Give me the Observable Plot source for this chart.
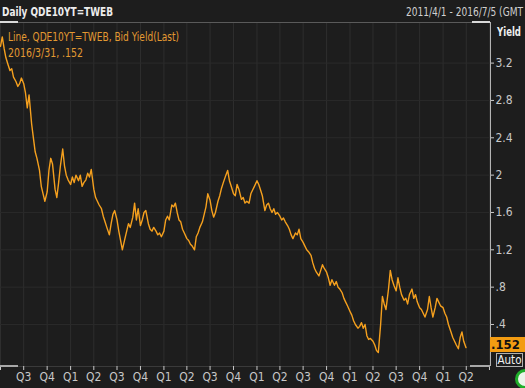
<!DOCTYPE html>
<html><head><meta charset="utf-8">
<script src="https://cdn.jsdelivr.net/npm/d3@7"></script>
<script src="https://cdn.jsdelivr.net/npm/@observablehq/plot@0.6"></script>
<style>
html,body{margin:0;padding:0;background:#1d1d1d;overflow:hidden}
#wrap{position:relative;width:525px;height:388px;overflow:hidden;font-family:"Liberation Sans Narrow","DejaVu Sans Condensed",sans-serif}
.ov{position:absolute;white-space:nowrap;line-height:14px;transform-origin:0 50%}
</style></head><body><div id="wrap"></div>
<script>
// ---- data ----
const dates = [
"2011-04-01","2011-04-08","2011-04-15","2011-04-22","2011-05-01","2011-05-08","2011-05-15","2011-05-22",
"2011-06-01","2011-06-08","2011-06-15","2011-06-22","2011-07-01","2011-07-08","2011-07-15","2011-07-22",
"2011-08-01","2011-08-08","2011-08-15","2011-08-22","2011-09-01","2011-09-08","2011-09-15","2011-09-22",
"2011-10-01","2011-10-08","2011-10-15","2011-10-22","2011-11-01","2011-11-08","2011-11-15","2011-11-22",
"2011-12-01","2011-12-08","2011-12-15","2011-12-22","2012-01-01","2012-01-08","2012-01-15","2012-01-22",
"2012-02-01","2012-02-08","2012-02-15","2012-02-22","2012-03-01","2012-03-08","2012-03-15","2012-03-22",
"2012-04-01","2012-04-08","2012-04-15","2012-04-22","2012-05-01","2012-05-08","2012-05-15","2012-05-22",
"2012-06-01","2012-06-08","2012-06-15","2012-06-22","2012-07-01","2012-07-08","2012-07-15","2012-07-22",
"2012-08-01","2012-08-08","2012-08-15","2012-08-22","2012-09-01","2012-09-08","2012-09-15","2012-09-22",
"2012-10-01","2012-10-08","2012-10-15","2012-10-22","2012-11-01","2012-11-08","2012-11-15","2012-11-22",
"2012-12-01","2012-12-08","2012-12-15","2012-12-22","2013-01-01","2013-01-08","2013-01-15","2013-01-22",
"2013-02-01","2013-02-08","2013-02-15","2013-02-22","2013-03-01","2013-03-08","2013-03-15","2013-03-22",
"2013-04-01","2013-04-08","2013-04-15","2013-04-22","2013-05-01","2013-05-08","2013-05-15","2013-05-22",
"2013-06-01","2013-06-08","2013-06-15","2013-06-22","2013-07-01","2013-07-08","2013-07-15","2013-07-22",
"2013-08-01","2013-08-08","2013-08-15","2013-08-22","2013-09-01","2013-09-08","2013-09-15","2013-09-22",
"2013-10-01","2013-10-08","2013-10-15","2013-10-22","2013-11-01","2013-11-08","2013-11-15","2013-11-22",
"2013-12-01","2013-12-08","2013-12-15","2013-12-22","2014-01-01","2014-01-08","2014-01-15","2014-01-22",
"2014-02-01","2014-02-08","2014-02-15","2014-02-22","2014-03-01","2014-03-08","2014-03-15","2014-03-22",
"2014-04-01","2014-04-08","2014-04-15","2014-04-22","2014-05-01","2014-05-08","2014-05-15","2014-05-22",
"2014-06-01","2014-06-08","2014-06-15","2014-06-22","2014-07-01","2014-07-08","2014-07-15","2014-07-22",
"2014-08-01","2014-08-08","2014-08-15","2014-08-22","2014-09-01","2014-09-08","2014-09-15","2014-09-22",
"2014-10-01","2014-10-08","2014-10-15","2014-10-22","2014-11-01","2014-11-08","2014-11-15","2014-11-22",
"2014-12-01","2014-12-08","2014-12-15","2014-12-22","2015-01-01","2015-01-08","2015-01-15","2015-01-22",
"2015-02-01","2015-02-08","2015-02-15","2015-02-22","2015-03-01","2015-03-08","2015-03-15","2015-03-22",
"2015-04-01","2015-04-08","2015-04-15","2015-04-22","2015-05-01","2015-05-08","2015-05-15","2015-05-22",
"2015-06-01","2015-06-08","2015-06-15","2015-06-22","2015-07-01","2015-07-08","2015-07-15","2015-07-22",
"2015-08-01","2015-08-08","2015-08-15","2015-08-22","2015-09-01","2015-09-08","2015-09-15","2015-09-22",
"2015-10-01","2015-10-08","2015-10-15","2015-10-22","2015-11-01","2015-11-08","2015-11-15","2015-11-22",
"2015-12-01","2015-12-08","2015-12-15","2015-12-22","2016-01-01","2016-01-08","2016-01-15","2016-01-22",
"2016-02-01","2016-02-08","2016-02-15","2016-02-22","2016-03-01","2016-03-08","2016-03-15","2016-03-22",
"2016-03-31"
];
const yields = [
3.38,3.48,3.36,3.26, 3.18,3.12,3.14,3.05,
3.00,2.95,2.98,3.04, 2.98,2.88,2.72,2.86,
2.55,2.40,2.25,2.18, 2.05,1.88,1.80,1.72,
1.82,2.05,2.18,2.12, 1.85,1.76,1.92,2.10,
2.28,2.10,2.00,1.95, 1.90,1.98,1.92,2.00,
1.94,2.00,1.88,1.92, 1.95,2.02,1.98,2.06,
1.85,1.76,1.72,1.68, 1.64,1.56,1.50,1.44,
1.36,1.48,1.58,1.62, 1.52,1.40,1.30,1.20,
1.32,1.40,1.48,1.44, 1.55,1.70,1.52,1.64,
1.46,1.52,1.60,1.62, 1.48,1.42,1.40,1.44,
1.40,1.36,1.38,1.34, 1.40,1.52,1.56,1.52,
1.68,1.66,1.70,1.60, 1.52,1.50,1.42,1.38,
1.32,1.30,1.26,1.24, 1.20,1.34,1.38,1.44,
1.50,1.58,1.66,1.80, 1.73,1.62,1.55,1.60,
1.72,1.78,1.86,1.92, 2.00,2.05,1.94,1.88,
1.80,1.78,1.90,1.85, 1.74,1.76,1.70,1.72,
1.70,1.80,1.84,1.88, 1.94,1.90,1.84,1.78,
1.62,1.68,1.70,1.64, 1.60,1.64,1.58,1.60,
1.56,1.52,1.54,1.50, 1.46,1.42,1.36,1.32,
1.38,1.36,1.42,1.32, 1.28,1.24,1.20,1.18,
1.14,1.06,1.00,0.96, 0.92,0.98,1.04,1.00,
0.96,0.90,0.82,0.88, 0.82,0.86,0.80,0.78,
0.74,0.68,0.64,0.60, 0.54,0.50,0.44,0.40,
0.36,0.38,0.42,0.36, 0.40,0.28,0.24,0.25,
0.22,0.18,0.12,0.10, 0.40,0.70,0.62,0.56,
0.78,0.98,0.88,0.82, 0.76,0.90,0.80,0.72,
0.66,0.68,0.62,0.72, 0.78,0.68,0.72,0.64,
0.58,0.56,0.52,0.48, 0.56,0.70,0.58,0.48,
0.58,0.68,0.64,0.60, 0.58,0.52,0.48,0.40,
0.32,0.26,0.22,0.18, 0.14,0.26,0.32,0.22,
0.152
];
const yTicks = [0.4, 0.8, 1.2, 1.6, 2.0, 2.4, 2.8, 3.2];
const xDomain = ["2011-04-01", "2016-07-05"];
const yDomain = [-0.05, 3.635];
const headerTitle = "Daily QDE10YT=TWEB";
const headerRange = "2011/4/1 - 2016/7/5 (GMT";
const legendLine1 = "Line, QDE10YT=TWEB, Bid Yield(Last)";
const legendLine2 = "2016/3/31, .152";
const lastValue = 0.152;

// ---- build ----
const data = dates.map((d, i) => ({date: new Date(d), value: yields[i]}));
const x0 = new Date(xDomain[0]), x1 = new Date(xDomain[1]);
const qEnd = new Date("2016-07-01");
const qTicks = d3.utcMonth.every(3).range(x0, x1);
const qFmt = d => (+d === +x0 || +d === +qEnd) ? "" : "Q" + (Math.floor(d.getUTCMonth() / 3) + 1);
const yFmt = d => d3.format("~g")(d).replace(/^0\./, ".");
const FONT = '"Liberation Sans Narrow","DejaVu Sans Condensed",sans-serif';

const chart = Plot.plot({
  width: 525, height: 388,
  marginTop: 22, marginRight: 35, marginBottom: 22, marginLeft: 0,
  style: {background: "#1d1d1d", color: "#c8c8c8", fontFamily: FONT, fontSize: "12px"},
  x: {type: "utc", domain: [x0, x1]},
  y: {domain: yDomain},
  marks: [
    Plot.gridX(qTicks, {stroke: "#2e2e2e", strokeOpacity: 1}),
    Plot.gridY(yTicks, {stroke: "#2a2a2a", strokeOpacity: 1}),
    Plot.ruleY([yDomain[1]], {stroke: "#5a5a5a"}),
    Plot.ruleY([yDomain[0]], {stroke: "#3a3a3a"}),
    Plot.ruleX([x1], {stroke: "#b4b4b4"}),
    Plot.line(data, {x: "date", y: "value", stroke: "#f5a01e", strokeWidth: 1.4}),
    Plot.axisY(yTicks, {anchor: "right", tickSize: 3, tickPadding: 2, tickFormat: yFmt, label: null, stroke: "#c8c8c8", fill: "#c8c8c8"}),
    Plot.axisX(qTicks, {anchor: "bottom", tickSize: 4, tickPadding: 2, tickFormat: qFmt, label: null, stroke: "#c8c8c8", fill: "#c8c8c8"})
  ]
});
const wrap = document.getElementById("wrap");
wrap.appendChild(chart);

const yScale = chart.scale("y");
const ov = (text, css, target) => {
  const d = document.createElement("div");
  d.className = "ov"; d.textContent = text;
  Object.assign(d.style, css);
  wrap.appendChild(d);
  if (target) {
    const w = d.getBoundingClientRect().width;
    if (w > 0) d.style.transform = `scaleX(${target / w})`;
  }
  return d;
};
ov(headerTitle, {left: "2px", top: "5px", color: "#ececec", fontWeight: "bold", fontSize: "13px"}, 111);
ov(headerRange, {left: "406px", top: "5px", color: "#d0d0d0", fontSize: "12.5px"}, 117);
ov(legendLine1, {left: "8px", top: "30px", color: "#e39a32", fontSize: "12.5px"}, 171);
ov(legendLine2, {left: "8px", top: "46px", color: "#e39a32", fontSize: "12.5px"}, 75);
ov("Yield", {left: "497px", top: "25px", color: "#eeeeee", fontWeight: "bold", fontSize: "12.5px"}, 24);
const yl = yScale.apply(lastValue);
ov(yFmt(lastValue), {left: "490px", top: (yl - 10) + "px", width: "35px", height: "15px", lineHeight: "15px", background: "#f39c12", color: "#111", fontWeight: "bold", fontSize: "13px", paddingLeft: "1px"});
ov("Auto", {left: "496px", top: "353px", width: "25px", height: "12px", lineHeight: "12px", border: "1px solid #b0b0b0", color: "#f0f0f0", fontSize: "11.5px", textAlign: "center"});
// UI highlights (scroll indicators) and status dot
ov("", {left: "0px", top: "21px", width: "18px", height: "2px", background: "#d8d8d8"});
ov("", {left: "472px", top: "21px", width: "18px", height: "2px", background: "#d8d8d8"});
ov("", {left: "0px", top: "365px", width: "18px", height: "2px", background: "#a8a8a8"});
ov("", {left: "470px", top: "365px", width: "20px", height: "2px", background: "#a8a8a8"});
ov("", {left: "515px", top: "369px", width: "14px", height: "14px", borderRadius: "50%", border: "3px solid #1fae2a", background: "#eaf6ea"});
</script>
</body></html>
